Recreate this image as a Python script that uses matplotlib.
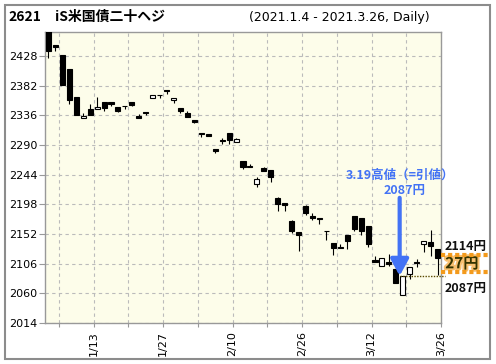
import matplotlib
matplotlib.use("Agg")
import matplotlib.pyplot as plt
import matplotlib.patheffects as pe
from matplotlib.patches import Rectangle
import numpy as np

# daily candles, 2021.1.4 - 2021.3.26
dates = ["1/4", "1/5", "1/6", "1/7", "1/8", "1/12", "1/13", "1/14", "1/15",
         "1/18", "1/19", "1/20", "1/21", "1/22", "1/25", "1/26", "1/27", "1/28", "1/29",
         "2/1", "2/2", "2/3", "2/4", "2/5", "2/8", "2/9", "2/10", "2/12",
         "2/15", "2/16", "2/17", "2/18", "2/19", "2/22", "2/24", "2/25", "2/26",
         "3/1", "3/2", "3/3", "3/4", "3/5", "3/8", "3/9", "3/10", "3/11", "3/12",
         "3/15", "3/16", "3/17", "3/18", "3/19", "3/22", "3/23", "3/24", "3/25", "3/26"]
opens = [2466, 2445, 2430, 2408, 2364, 2331, 2345, 2345, 2357,
         2357, 2349, 2351, 2356, 2335, 2341, 2363, 2368, 2375, 2359,
         2347, 2340, 2329, 2309, 2307, 2284, 2297, 2308, 2294,
         2265, 2257, 2229, 2254, 2251, 2208, 2200, 2172, 2155,
         2196, 2180, 2177, 2157, 2138, 2132, 2150, 2180, 2177, 2165,
         2111, 2102, 2109, 2097, 2057, 2090, 2108, 2136, 2140, 2128]
highs = [2470, 2445, 2430, 2408, 2364, 2340, 2353, 2364, 2357,
         2357, 2349, 2351, 2356, 2338, 2341, 2367, 2368, 2375, 2362,
         2347, 2342, 2329, 2309, 2307, 2284, 2300, 2308, 2301,
         2265, 2261, 2241, 2256, 2251, 2210, 2200, 2174, 2155,
         2197, 2185, 2177, 2157, 2138, 2136, 2150, 2180, 2177, 2165,
         2118, 2114, 2121, 2101, 2087, 2101, 2113, 2141, 2158, 2128]
lows = [2424, 2436, 2383, 2354, 2337, 2331, 2337, 2345, 2342,
        2350, 2341, 2345, 2350, 2331, 2336, 2363, 2362, 2369, 2355,
        2340, 2334, 2324, 2303, 2304, 2277, 2292, 2291, 2294,
        2252, 2255, 2225, 2249, 2232, 2188, 2188, 2154, 2126,
        2181, 2173, 2167, 2142, 2120, 2130, 2128, 2156, 2151, 2132,
        2108, 2102, 2103, 2076, 2057, 2082, 2101, 2124, 2118, 2088]
closes = [2436, 2441, 2383, 2359, 2337, 2335, 2337, 2349, 2347,
          2354, 2343, 2350, 2352, 2331, 2340, 2367, 2367, 2374, 2362,
          2342, 2334, 2326, 2307, 2304, 2280, 2296.5, 2297, 2299,
          2256, 2255.5, 2237, 2249, 2240, 2199, 2197, 2157, 2150,
          2184, 2177, 2175, 2156, 2130, 2130, 2141, 2159, 2156, 2136,
          2108, 2114, 2106, 2076, 2087, 2101, 2107, 2141, 2133, 2114]

y_ticks = [2014, 2060, 2106, 2152, 2198, 2244, 2290, 2336, 2382, 2428]
high_idx = 51          # 3/19
high_value = 2087
last_value = 2114

opens = np.array(opens, float)
highs = np.array(highs, float)
lows = np.array(lows, float)
closes = np.array(closes, float)
x = np.arange(len(dates)) + 0.5

blue = "#4373f5"
orange = "#f39a1c"
jp = ["Noto Sans CJK JP", "DejaVu Sans"]

fig = plt.figure(figsize=(4.96, 3.64), dpi=100)
fig.patches.append(Rectangle((5 / 496, 5 / 364), 485 / 496, 354 / 364,
                             transform=fig.transFigure, fill=False,
                             edgecolor="#8c8c8c", linewidth=1.5))

ax = fig.add_axes([45 / 496, 41 / 364, 396 / 496, 291 / 364])
ax.set_facecolor("#fdfdea")
ax.set_xlim(0, len(dates))
ax.set_ylim(2014, 2465)

ax.set_yticks(y_ticks)
ax.set_yticklabels([str(v) for v in y_ticks])
tick_idx = list(range(1, len(dates), 5))
ax.set_xticks([i + 1 for i in tick_idx])
ax.set_xticklabels([dates[i] if (i - 6) % 10 == 0 else "" for i in tick_idx], rotation=90)
ax.tick_params(axis="y", length=4, width=0.8, color="#999999", labelsize=8, pad=1.5)
ax.tick_params(axis="x", length=3, width=0.8, color="#999999", labelsize=8, pad=3)
ax.grid(True, color="#bbbbbb", linestyle=(0, (3, 3)), linewidth=0.8)
ax.set_axisbelow(True)
for s in ax.spines.values():
    s.set_color("#999999")
    s.set_linewidth(1.0)

# candles
up = closes >= opens
ax.vlines(x, lows, highs, color="black", linewidth=0.8, zorder=2)
bottoms = np.minimum(opens, closes)
heights = np.maximum(np.abs(closes - opens), 1.0)
ax.bar(x, heights, bottom=bottoms, width=0.72, color=np.where(up, "white", "black"),
       edgecolor="black", linewidth=0.8, zorder=3)

# 3/19 high annotation
ax_x = x[high_idx] - 0.45
ax.annotate("", xy=(ax_x, high_value), xytext=(ax_x, 2208),
            arrowprops=dict(arrowstyle="-|>,head_width=0.3,head_length=0.55",
                            color=blue, lw=3, shrinkA=0, shrinkB=0, mutation_scale=18),
            zorder=5)
ax.text(x[high_idx] - 0.4, 2243, "3.19高値（=引値）", ha="center", va="center",
        color=blue, fontsize=9, fontweight="bold", family=jp, clip_on=False)
ax.text(x[high_idx] + 0.2, 2219, f"{high_value}円", ha="center", va="center",
        color=blue, fontsize=9, fontweight="bold", family=jp, clip_on=False)
ax.plot([ax_x, len(dates) + 0.6], [high_value, high_value], color="#5a4a00",
        linestyle=(0, (1, 1)), linewidth=1, clip_on=False, zorder=4)

# difference box on the right
bx0, bx1 = len(dates), len(dates) + 6.8
for yv in (last_value + 6, high_value + 6):
    ax.plot([bx0, bx1], [yv, yv], color=orange, linewidth=3,
            linestyle=(0, (1, 0.7)), clip_on=False, zorder=4)
ax.text(len(dates) + 3.5, last_value + 18, f"{last_value}円", ha="center", va="center",
        fontsize=9, fontweight="bold", family=jp, color="#111111", clip_on=False)
ax.text(len(dates) + 3.0, high_value + 19.5, f"{last_value - high_value}円", ha="center",
        va="center", fontsize=11, fontweight="bold", family=jp, color="#333300",
        clip_on=False,
        path_effects=[pe.withStroke(linewidth=3, foreground="#f8c070")])
ax.text(len(dates) + 3.5, high_value - 20, f"{high_value}円", ha="center", va="center",
        fontsize=9, fontweight="bold", family=jp, color="#111111", clip_on=False)

# header
fig.text(8 / 496, 1 - 17 / 364, "2621", fontsize=10, fontweight="bold",
         family=jp, va="center", ha="left")
fig.text(55 / 496, 1 - 17 / 364, "iS米国債二十ヘジ", fontsize=10, fontweight="bold",
         family=jp, va="center", ha="left")
fig.text(249 / 496, 1 - 18 / 364, "(2021.1.4 - 2021.3.26, Daily)", fontsize=9,
         va="center", ha="left")

fig.savefig("out.png", dpi=100)
